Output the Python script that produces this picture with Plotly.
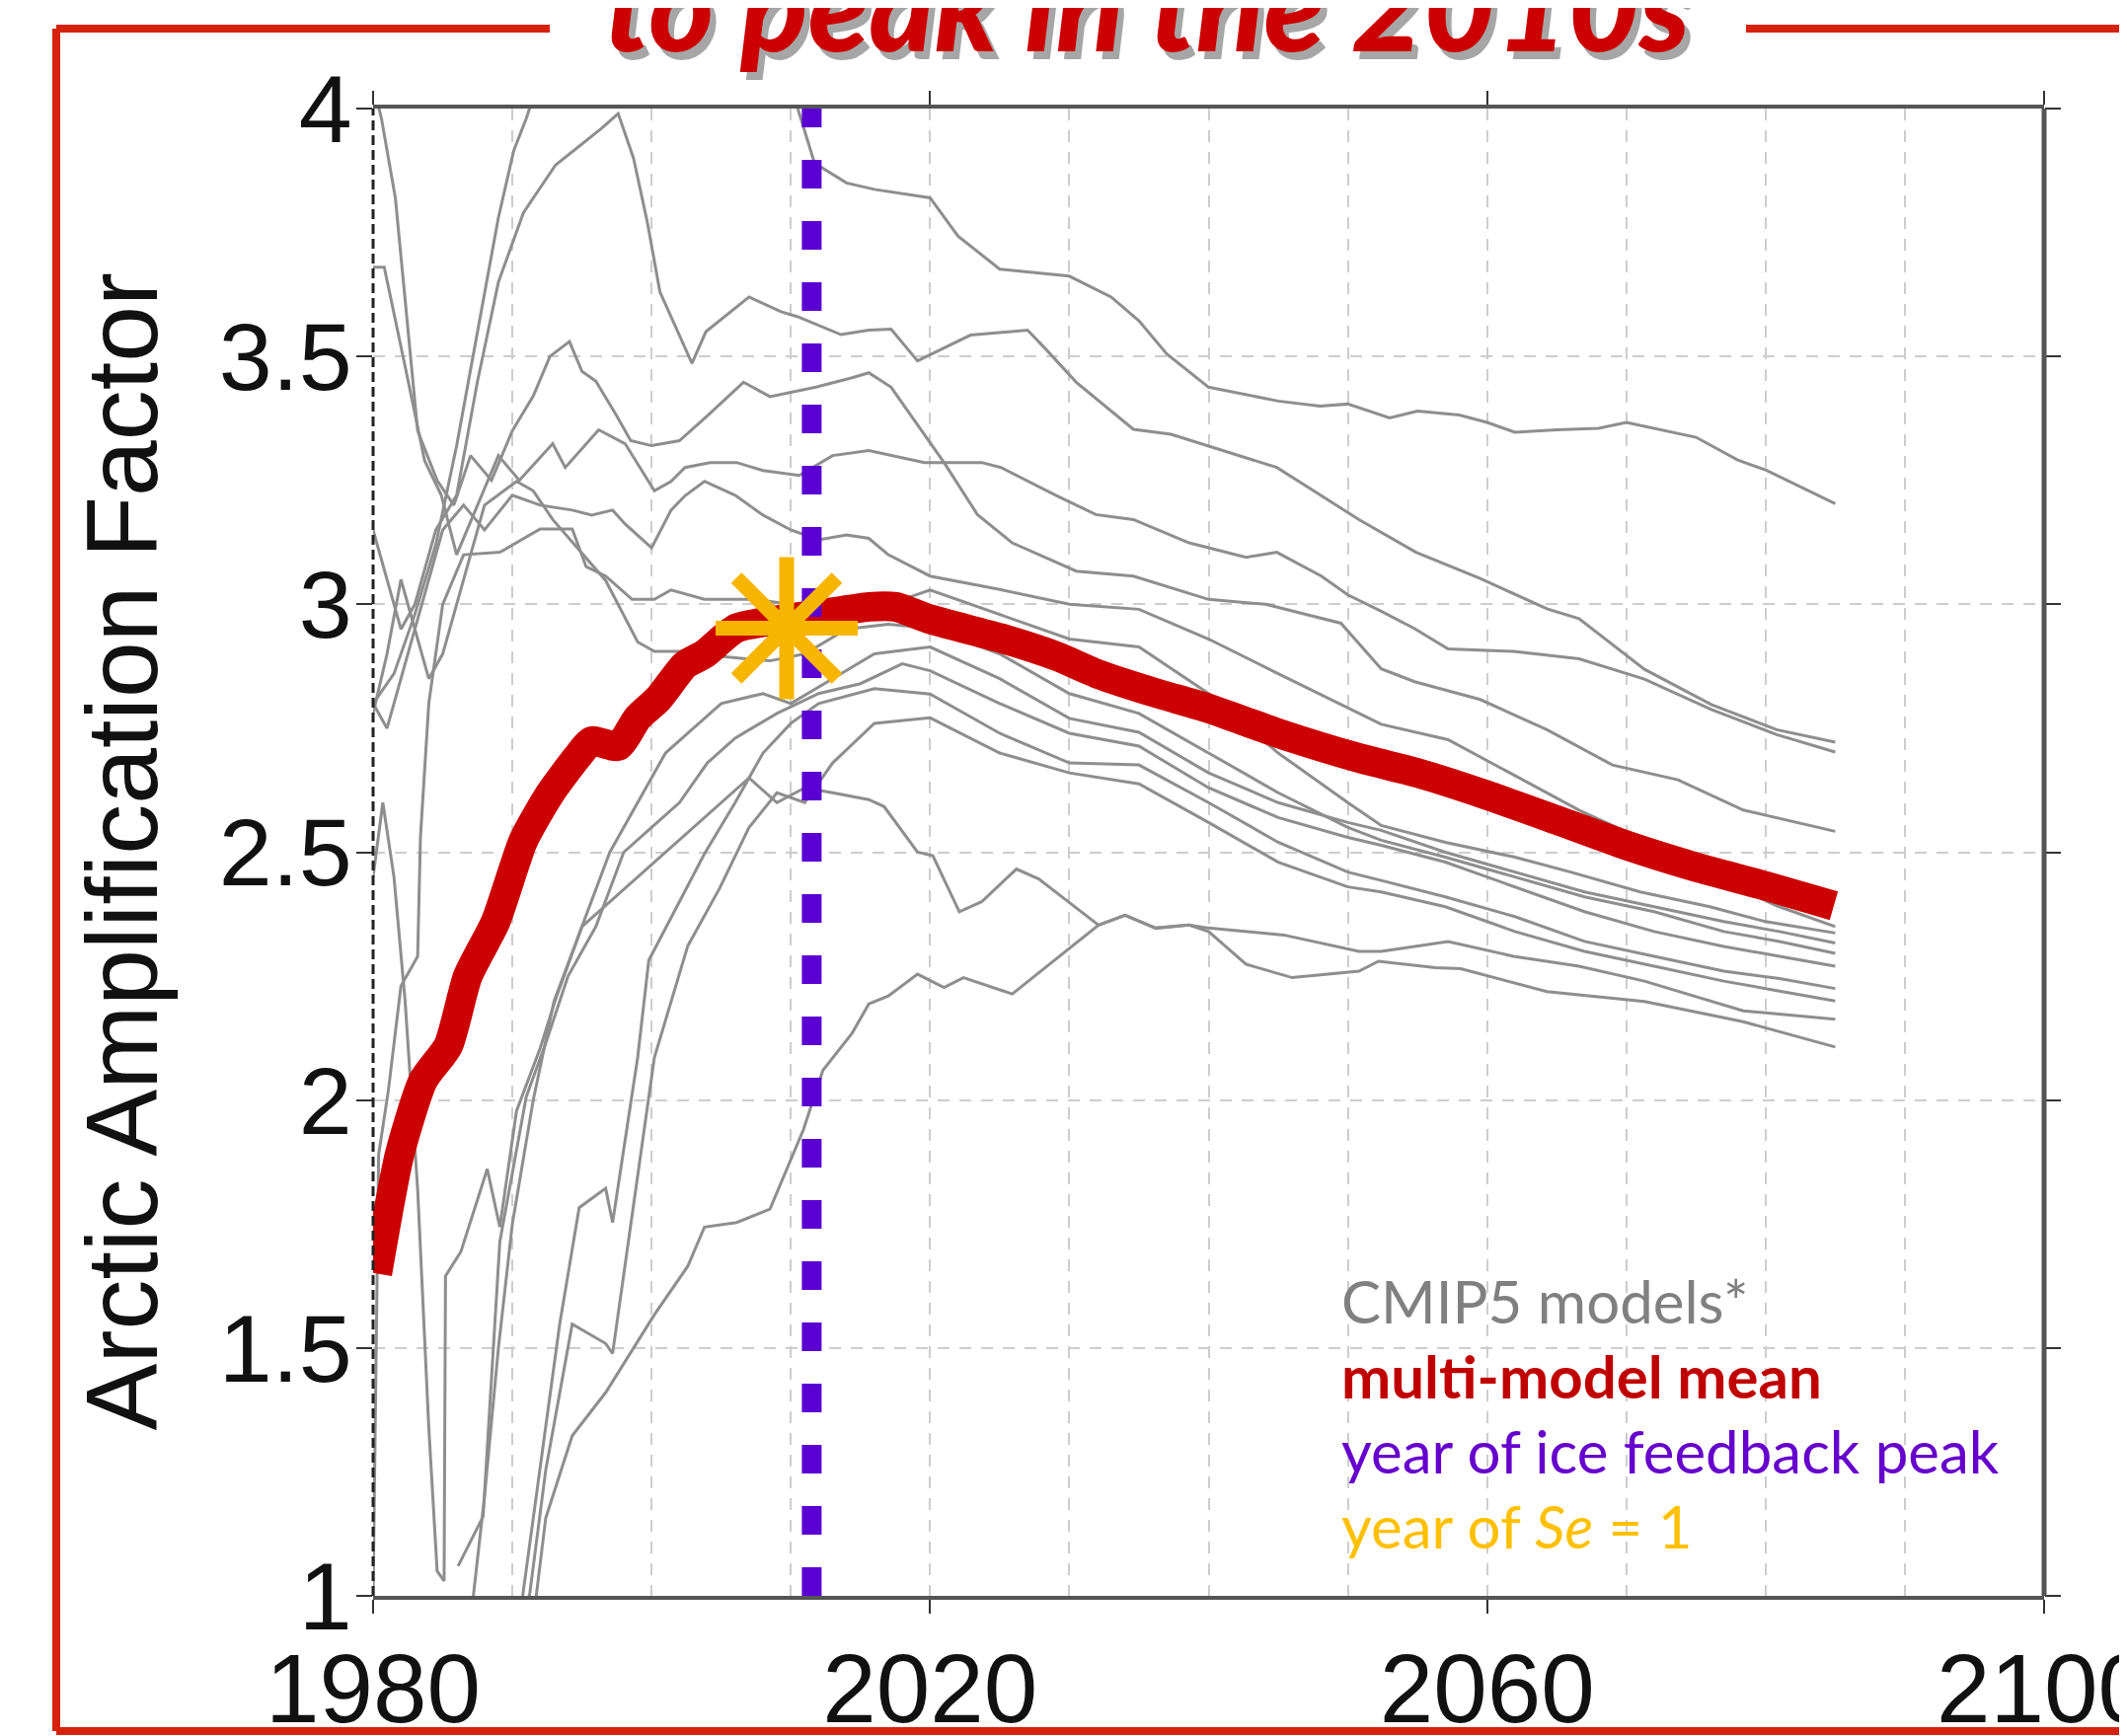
import plotly.graph_objects as go

# ---------------- data ----------------
m_a = [(1980,2.80),(1981.5,2.86),(1983,2.98),(1984.5,3.12),(1986,3.32),(1987.5,3.55),(1989,3.78),(1990.1,3.915),(1991,3.98),(1993,4.15),(2000,4.4),(2006,4.3),(2008.5,4.15),(2010.5,4.0),(2011.7,3.89),(2014,3.85),(2016,3.837),(2020,3.82),(2022,3.743),(2025,3.676),(2030,3.662),(2033,3.62),(2035,3.572),(2037,3.505),(2040,3.438),(2045,3.41),(2048,3.40),(2050,3.404),(2053,3.376),(2055,3.39),(2058,3.382),(2060,3.367),(2062,3.347),(2065,3.352),(2068,3.355),(2070,3.367),(2075,3.337),(2078,3.291),(2080,3.271),(2085,3.203)]
m_b = [(1980,3.15),(1981,3.05),(1982,2.95),(1983,3.0),(1984.5,3.15),(1986,3.22),(1987.5,3.45),(1989,3.65),(1990.8,3.79),(1993.1,3.886),(1996.4,3.96),(1997.6,3.99),(1998.7,3.9),(1999.7,3.77),(2000.6,3.63),(2002.9,3.486),(2003.9,3.55),(2007,3.62),(2009.3,3.59),(2010.5,3.58),(2013.6,3.544),(2015.6,3.553),(2017.2,3.555),(2019.1,3.491),(2022.9,3.543),(2027,3.553),(2028.3,3.515),(2030.5,3.448),(2034.6,3.353),(2037.3,3.343),(2042.7,3.295),(2044.9,3.276),(2048.1,3.219),(2050.8,3.171),(2054.9,3.105),(2059.5,3.052),(2064.3,2.991),(2066.6,2.971),(2071.3,2.869),(2076.1,2.798),(2080.8,2.747),(2085,2.722)]
m_c = [(1980,4.05),(1980.6,3.98),(1981.6,3.82),(1982.5,3.55),(1983.2,3.35),(1984.6,3.25),(1985.8,3.2),(1987,3.3),(1988.5,3.25),(1990,3.35),(1991.5,3.42),(1992.7,3.5),(1994.1,3.53),(1995,3.47),(1996,3.45),(1997.5,3.38),(1998.5,3.33),(2000,3.32),(2002,3.33),(2004,3.38),(2006.6,3.448),(2008.5,3.419),(2011.8,3.438),(2014.4,3.457),(2015.6,3.467),(2017.2,3.438),(2019.1,3.362),(2021,3.286),(2023.4,3.181),(2025.9,3.124),(2030.5,3.067),(2034.6,3.057),(2040,3.01),(2044.1,3.0),(2049.5,2.962),(2052.4,2.87),(2054.8,2.844),(2059.5,2.808),(2064.3,2.747),(2069,2.676),(2073.7,2.646),(2078.4,2.585),(2085,2.542)]
m_d = [(1980,3.68),(1980.8,3.68),(1982.3,3.48),(1983.7,3.29),(1984.9,3.22),(1986,3.1),(1987.5,3.2),(1989,3.3),(1990.5,3.25),(1992.9,3.324),(1993.8,3.276),(1996.2,3.352),(1998.1,3.324),(2000.2,3.229),(2001.4,3.248),(2002.4,3.276),(2004.2,3.286),(2006.1,3.286),(2008,3.27),(2010.6,3.26),(2013,3.3),(2015.6,3.31),(2019.6,3.286),(2023.7,3.286),(2025.1,3.276),(2026.4,3.257),(2029.1,3.219),(2031.9,3.181),(2034.6,3.171),(2038.6,3.124),(2042.7,3.095),(2044.9,3.105),(2048.1,3.057),(2050,3.019),(2052.4,2.986),(2054.8,2.951),(2057.2,2.91),(2061.9,2.905),(2066.6,2.89),(2071.3,2.849),(2076.1,2.788),(2080.8,2.737),(2085,2.702)]
m_e = [(1980,2.8),(1981,2.75),(1982,2.85),(1983,2.95),(1984,3.05),(1985,3.15),(1986.5,3.2),(1988,3.15),(1990,3.22),(1992,3.2),(1994.3,3.19),(1995.7,3.18),(1997.2,3.19),(1998.1,3.162),(2000,3.114),(2001.4,3.19),(2002.4,3.219),(2003.8,3.248),(2006,3.22),(2008,3.18),(2010,3.15),(2012,3.13),(2014,3.14),(2015.6,3.133),(2017,3.1),(2020,3.057),(2025,3.03),(2030,3.0),(2035,2.99),(2040,2.93),(2045,2.86),(2050,2.79),(2052.4,2.758),(2057.2,2.727),(2061.9,2.656),(2066.6,2.585),(2071.3,2.524),(2076.1,2.453),(2080.8,2.392),(2085,2.35)]
m_f = [(1980,1.0),(1980.4,1.89),(1981.1,2.02),(1982,2.23),(1983.2,2.29),(1983.4,2.53),(1984,2.8),(1985,3.0),(1986.5,3.1),(1989.1,3.105),(1992,3.152),(1994.3,3.152),(1995.3,3.076),(1996.7,3.057),(1998.6,3.01),(2000.2,3.01),(2001.4,3.029),(2003.8,3.01),(2007.3,3.01),(2010,3.0),(2013,2.98),(2016,2.99),(2020,3.029),(2025,2.98),(2030,2.93),(2035,2.914),(2040,2.82),(2045,2.7),(2050,2.6),(2052.4,2.554),(2057,2.52),(2062,2.49),(2066,2.46),(2071,2.42),(2076,2.39),(2080,2.36),(2085,2.337)]
m_k = [(1980,2.78),(1981,2.9),(1982,3.05),(1983,2.95),(1984,2.85),(1985,2.9),(1986.5,3.05),(1988,3.2),(1990.3,3.248),(1991.5,3.229),(1992.9,3.171),(1996.7,3.048),(1999,2.924),(2000.2,2.905),(2002.6,2.905),(2004.9,2.895),(2008.5,2.886),(2011,2.9),(2014,2.95),(2017,2.96),(2020,2.952),(2025,2.9),(2030,2.82),(2035,2.78),(2040,2.7),(2045,2.62),(2050,2.55),(2052.4,2.524),(2057,2.49),(2062,2.45),(2067,2.41),(2072,2.38),(2077,2.34),(2081,2.32),(2085,2.296)]
m_r1 = [(1990.5,0.95),(1991.5,1.157),(1993.4,1.548),(1994.8,1.783),(1996.7,1.822),(1997.2,1.753),(1999,2.086),(1999.8,2.282),(2003.8,2.497),(2006,2.6),(2008,2.7),(2010,2.76),(2012,2.8),(2016,2.83),(2020,2.819),(2025,2.74),(2030,2.68),(2035,2.676),(2040,2.6),(2045,2.52),(2050,2.46),(2052.4,2.443),(2057,2.41),(2062,2.37),(2067,2.32),(2072,2.29),(2077,2.26),(2081,2.245),(2085,2.225)]
m_r2 = [(1991,0.95),(1992.4,1.254),(1994.3,1.548),(1996.7,1.509),(1997.2,1.489),(1998.6,1.763),(2000.2,2.086),(2002.6,2.311),(2004.9,2.428),(2007,2.55),(2009,2.62),(2011,2.6),(2013,2.68),(2016,2.76),(2020,2.771),(2025,2.7),(2030,2.66),(2035,2.638),(2040,2.56),(2045,2.48),(2050,2.43),(2052.4,2.42),(2057,2.39),(2062,2.34),(2067,2.3),(2072,2.27),(2077,2.24),(2081,2.22),(2085,2.20)]
m_r3 = [(1980,2.45),(1980.7,2.6),(1981.5,2.45),(1982.3,2.2),(1983.2,1.82),(1984,1.34),(1984.6,1.05),(1985.1,1.03),(1985.2,1.645),(1986.3,1.694),(1988.2,1.861),(1989.1,1.744),(1990.3,1.978),(1992,2.105),(1993.1,2.203),(1995,2.35),(1997,2.5),(1999,2.6),(2001,2.7),(2003,2.75),(2005,2.8),(2008,2.82),(2010,2.8),(2013,2.85),(2016,2.9),(2020,2.914),(2025,2.85),(2030,2.77),(2035,2.742),(2040,2.66),(2045,2.6),(2050,2.56),(2052.4,2.544),(2057,2.5),(2062,2.46),(2067,2.42),(2072,2.39),(2077,2.36),(2081,2.34),(2085,2.317)]
m_r4 = [(1986.1,1.06),(1987.9,1.16),(1989.1,1.714),(1991,2.007),(1992.4,2.115),(1994,2.25),(1996,2.35),(1998,2.5),(2000,2.55),(2002,2.6),(2004,2.68),(2006,2.73),(2009,2.78),(2012,2.82),(2015,2.84),(2018,2.88),(2020,2.866),(2025,2.8),(2030,2.74),(2035,2.714),(2040,2.63),(2045,2.57),(2050,2.53),(2052.4,2.514),(2057,2.48),(2062,2.43),(2067,2.38),(2072,2.34),(2077,2.31),(2081,2.29),(2085,2.27)]
m_g = [(1987,0.95),(1988,1.2),(1989,1.5),(1990,1.75),(1991.5,2.0),(1993,2.2),(1995,2.35),(1997,2.4),(1999,2.45),(2001,2.5),(2003,2.55),(2005,2.6),(2007,2.65),(2009,2.6),(2011,2.63),(2013,2.62),(2015.6,2.606),(2016.7,2.592),(2019.1,2.5),(2020.2,2.493),(2022.1,2.38),(2023.7,2.4),(2026.2,2.466),(2027.8,2.446),(2032.1,2.353),(2034,2.373),(2036.2,2.347),(2038.6,2.353),(2040,2.347),(2045.4,2.333),(2050.8,2.3),(2052.4,2.3),(2057.2,2.32),(2061.9,2.29),(2066.6,2.27),(2071.3,2.24),(2078.4,2.18),(2085,2.163)]
m_h = [(1991.5,0.95),(1992.4,1.157),(1994.3,1.323),(1996.7,1.41),(2000.2,1.567),(2002.6,1.665),(2003.8,1.744),(2006.1,1.753),(2008.5,1.78),(2010.9,1.94),(2012.3,2.06),(2014.4,2.135),(2015.6,2.194),(2017,2.21),(2019.1,2.254),(2021,2.227),(2022.4,2.247),(2025.9,2.214),(2032.1,2.353),(2034,2.373),(2036.2,2.347),(2038.6,2.353),(2040,2.34),(2042.7,2.274),(2046,2.247),(2050.8,2.26),(2052.2,2.28),(2056.3,2.267),(2058.1,2.265),(2064.3,2.219),(2071.3,2.199),(2078.4,2.158),(2085,2.107)]

model_runs = [m_a, m_b, m_c, m_d, m_e, m_f, m_k, m_r1, m_r2, m_r3, m_r4, m_g, m_h]

mean_years = [1980.3,1981.9,1983.6,1985.4,1986.8,1988.8,1990.8,1992.7,1994.6,1995.7,1997.6,1999,2000.5,2002.4,2003.8,2006.1,2009.7,2012,2015.6,2017.5,2020,2025.3,2029.1,2032,2036,2040,2045,2050.8,2055,2060,2065,2070,2075,2080,2084.9]
mean_vals = [1.65,1.89,2.04,2.11,2.25,2.36,2.524,2.618,2.69,2.724,2.714,2.771,2.81,2.878,2.9,2.952,2.971,2.98,2.995,2.995,2.97,2.93,2.895,2.86,2.823,2.79,2.74,2.69,2.66,2.615,2.565,2.514,2.47,2.432,2.392]

peak_year = 2011.5          # year of ice feedback peak
se_year, se_value = 2009.7, 2.952   # year of Se = 1

x_ticks = [1980, 2020, 2060, 2100]
y_ticks = [1, 1.5, 2, 2.5, 3, 3.5, 4]
y_tick_text = ["1", "1.5", "2", "2.5", "3", "3.5", "4"]

legend_lines = ["CMIP5 models*", "<b>multi-model mean</b>", "year of ice feedback peak", "year of <i>Se</i> = 1"]
legend_colors = ["#808080", "#c00000", "#6600cc", "#ffc000"]

# ---------------- layout geometry ----------------
# the page body has an 8px margin; the figure is sized so that it fills the window
OFF = 8
W, H = 2155 - OFF, 1759 - OFF
PLOT_L, PLOT_R, PLOT_T, PLOT_B = 378, 2071, 110, 1617      # page pixel positions of the plot box
ML, MT = PLOT_L - OFF, PLOT_T - OFF
MR, MB = W - (PLOT_R - OFF), H - (PLOT_B - OFF)
PW, PH = PLOT_R - PLOT_L, PLOT_B - PLOT_T


def pxx(x):
    """page pixel x -> paper coordinate"""
    return (x - PLOT_L) / PW


def pxy(y):
    """page pixel y -> paper coordinate"""
    return (PLOT_B - y) / PH


fig = go.Figure()

for run in model_runs:
    fig.add_trace(go.Scatter(x=[p[0] for p in run], y=[p[1] for p in run], mode="lines",
                             line=dict(color="#8e8e8e", width=3), hoverinfo="skip", showlegend=False))

fig.add_trace(go.Scatter(x=mean_years, y=mean_vals, mode="lines",
                         line=dict(color="#cc0000", width=30, shape="spline", smoothing=0.6),
                         hoverinfo="skip", showlegend=False))

fig.add_trace(go.Scatter(x=[peak_year, peak_year], y=[y_ticks[0], y_ticks[-1]], mode="lines",
                         line=dict(color="#5a00d2", width=20, dash="29px,33px"),
                         hoverinfo="skip", showlegend=False))

fig.add_trace(go.Scatter(x=[se_year], y=[se_value], mode="markers",
                         marker=dict(symbol="asterisk", size=120, color="#f7b500",
                                     line=dict(color="#f7b500", width=15)),
                         hoverinfo="skip", showlegend=False))

grid = dict(showgrid=True, gridcolor="#cdcdcd", gridwidth=2, griddash="12px,10px")
fig.update_xaxes(range=[1980, 2100], tickvals=x_ticks, ticktext=[str(v) for v in x_ticks],
                 ticks="outside", ticklen=14, tickwidth=2, tickcolor="#333",
                 showline=True, linecolor="#555", linewidth=4, mirror="ticks",
                 zeroline=False, automargin=False, ticklabeloverflow="allow",
                 minor=dict(dtick=10, tick0=1980, ticks="", **grid),
                 tickfont=dict(family="Liberation Sans, Arial, sans-serif", size=98, color="#111"),
                 ticklabelstandoff=-8, **grid)
fig.update_yaxes(range=[1, 4], tickvals=y_ticks, ticktext=y_tick_text,
                 ticks="outside", ticklen=16, tickwidth=2, tickcolor="#333",
                 showline=False, mirror="ticks", zeroline=False, automargin=False,
                 tickfont=dict(family="Liberation Sans, Arial, sans-serif", size=97, color="#111"),
                 ticklabelstandoff=-15, **grid)

shapes = [
    # left (dashed) and right (solid) plot borders
    dict(type="line", xref="paper", yref="paper", x0=0, x1=0, y0=0, y1=1,
         line=dict(color="#222", width=3, dash="10px,5px")),
    dict(type="line", xref="paper", yref="paper", x0=1, x1=1, y0=0, y1=1,
         line=dict(color="#555", width=5)),
]
red = "#d6220d"
fx0, fx1 = pxx(57), pxx(2170)
fy_top, fy_bot = pxy(29), pxy(1754)
shapes += [
    dict(type="line", xref="paper", yref="paper", x0=fx0, x1=fx0, y0=fy_bot, y1=fy_top, line=dict(color=red, width=8)),
    dict(type="line", xref="paper", yref="paper", x0=fx0, x1=fx1, y0=fy_bot, y1=fy_bot, line=dict(color=red, width=8)),
    dict(type="line", xref="paper", yref="paper", x0=fx0, x1=pxx(557), y0=fy_top, y1=fy_top, line=dict(color=red, width=8)),
    dict(type="line", xref="paper", yref="paper", x0=pxx(1769), x1=fx1, y0=fy_top, y1=fy_top, line=dict(color=red, width=8)),
]

annotations = []
# title (partly cut off at the top), with a drop shadow
for col, dx, dy in [("rgba(0,0,0,0.35)", 6, -8), ("#cc0000", 0, 0)]:
    annotations.append(dict(text="<i>to peak in the 2010s</i>", xref="paper", yref="paper",
                            x=pxx(1162), y=pxy(81), xanchor="center", yanchor="bottom",
                            xshift=dx, yshift=dy, showarrow=False,
                            font=dict(family="Lato, Open Sans, sans-serif", size=126, color=col, weight=900)))
# y-axis title
annotations.append(dict(text="Arctic Amplification Factor", xref="paper", yref="paper",
                        x=pxx(123), y=0.5, xanchor="center", yanchor="middle", textangle=-90,
                        showarrow=False,
                        font=dict(family="Liberation Sans, Arial, sans-serif", size=102, color="#111")))
# legend text
for i, (t, c) in enumerate(zip(legend_lines, legend_colors)):
    annotations.append(dict(text=t, xref="paper", yref="paper", x=pxx(1357), y=pxy(1318 + 76 * i),
                            xanchor="left", yanchor="middle", showarrow=False,
                            font=dict(family="Lato, Open Sans, sans-serif", size=60, color=c)))

fig.update_layout(width=W, height=H, margin=dict(l=ML, r=MR, t=MT, b=MB, pad=0),
                  paper_bgcolor="white", plot_bgcolor="white", showlegend=False,
                  shapes=shapes, annotations=annotations)

fig.write_html("out.html")
